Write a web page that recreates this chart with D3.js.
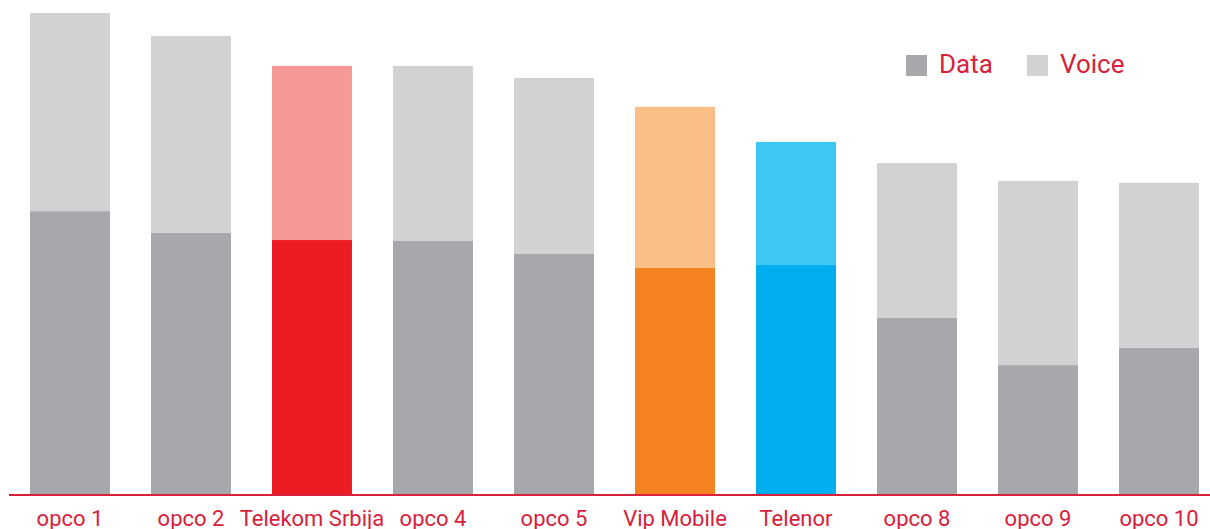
<!DOCTYPE html>
<html>
<head>
<meta charset="utf-8">
<script src="https://cdn.jsdelivr.net/npm/d3@7"></script>
<style>
  body { margin: 0; background: #fff; }
  text { font-family: Roboto, "Open Sans", sans-serif; }
</style>
</head>
<body>
<svg id="bar-chart" width="1210" height="529"></svg>
<script>
// operators, left to right
const operators = ["opco 1", "opco 2", "Telekom Srbija", "opco 4", "opco 5",
  "Vip Mobile", "Telenor", "opco 8", "opco 9", "opco 10"];
// stacked shares (opco 1 total = 100)
const dataValues = [58.8, 54.3, 52.8, 52.6, 49.9, 47.0, 47.6, 36.6, 26.8, 30.4];
const voiceValues = [41.2, 40.9, 36.2, 36.4, 36.6, 33.5, 25.6, 32.2, 38.3, 34.3];
const seriesNames = ["Data", "Voice"];

// highlighted operators get their brand colours
const dataColors = {
  "Telekom Srbija": "#ed1c24",
  "Vip Mobile": "#f58220",
  "Telenor": "#00aeef"
};
const voiceColors = {
  "Telekom Srbija": "#f69896",
  "Vip Mobile": "#fbbe87",
  "Telenor": "#3fc7f4"
};
const grey = { Data: "#a7a8ac", Voice: "#d1d2d4" };
const red = "#d7213b";

const rows = operators.map((name, i) => ({ name, Data: dataValues[i], Voice: voiceValues[i] }));
const stacked = d3.stack().keys(seriesNames)(rows);

const svg = d3.select("#bar-chart");

// Set up the scales
const x = d3.scaleBand()
  .domain(operators)
  .range([9.5, 1219.5])
  .paddingInner(0.339)
  .paddingOuter(0.1694);
const y = d3.scaleLinear()
  .domain([0, 100])
  .range([494, 13]);

function fillFor(key, name) {
  if (key === "Data") return dataColors[name] || grey.Data;
  return voiceColors[name] || grey.Voice;
}

// Add the bars
svg.selectAll("g.series")
  .data(stacked)
  .enter()
  .append("g")
  .attr("class", "series")
  .selectAll("rect")
  .data((s) => s.map((d) => ({ key: s.key, d })))
  .enter()
  .append("rect")
  .attr("x", (p) => Math.round(x(p.d.data.name)))
  .attr("y", (p) => y(p.d[1]))
  .attr("width", x.bandwidth())
  .attr("height", (p) => y(p.d[0]) - y(p.d[1]))
  .attr("fill", (p) => fillFor(p.key, p.d.data.name));

// baseline
svg.append("line")
  .attr("x1", 9)
  .attr("x2", 1210)
  .attr("y1", y(0) + 1)
  .attr("y2", y(0) + 1)
  .attr("stroke", red)
  .attr("stroke-width", 2);

// category labels
svg.selectAll("text.label")
  .data(operators)
  .enter()
  .append("text")
  .attr("class", "label")
  .attr("x", (d) => x(d) + x.bandwidth() / 2)
  .attr("y", 526)
  .attr("text-anchor", "middle")
  .attr("font-size", 22)
  .attr("fill", red)
  .text((d) => d);

// legend
const legend = svg.selectAll("g.legend")
  .data(seriesNames)
  .enter()
  .append("g")
  .attr("class", "legend")
  .attr("transform", (d, i) => `translate(${906 + i * 121},55)`);

legend.append("rect")
  .attr("width", 21)
  .attr("height", 21)
  .attr("fill", (d) => grey[d]);

legend.append("text")
  .attr("x", 33)
  .attr("y", 18)
  .attr("font-size", 26)
  .attr("fill", red)
  .text((d) => d);
</script>
</body>
</html>
